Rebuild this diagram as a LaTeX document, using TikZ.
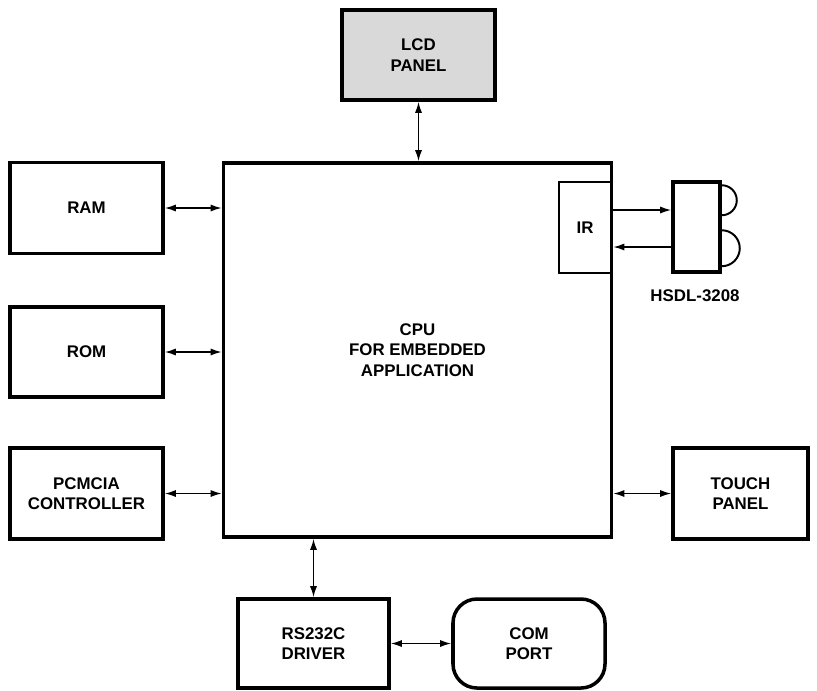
\documentclass[tikz,border=0pt]{standalone}
\usepackage{fontspec}
\setmainfont{Liberation Sans}
\usetikzlibrary{arrows.meta}
\tikzset{
  blk/.style={rectangle, draw=black, line width=2.5pt, align=center,
              font=\fontsize{12}{14.4}\selectfont\bfseries, inner sep=0pt},
  blkthin/.style={blk, line width=1.4pt},
  blkround/.style={blk, rounded corners=6mm},
  link/.style={{Latex[length=2.8mm,width=1.8mm]}-{Latex[length=2.8mm,width=1.8mm]}, line width=1.1pt},
  onelink/.style={-{Latex[length=2.8mm,width=1.8mm]}, line width=1.1pt},
  lens/.style={line width=1.4pt},
}
\begin{document}
\begin{tikzpicture}[x=0.25mm, y=-0.25mm]
\useasboundingbox (0,0) rectangle (817,690);
% main blocks
\node[blk, fill=black!15, minimum width=38.25mm, minimum height=22.5mm] (lcd) at (418.5,55) {LCD\\PANEL};
\node[blk, minimum width=97mm, minimum height=93.5mm] (cpu) at (417.5,350) {CPU\\FOR EMBEDDED\\APPLICATION};
\node[blk, minimum width=38.25mm, minimum height=22.75mm] (ram) at (86.5,208) {RAM};
\node[blk, minimum width=38.25mm, minimum height=22.5mm] (rom) at (86.5,352) {ROM};
\node[blk, minimum width=38.25mm, minimum height=22.75mm] (pcmcia) at (86.5,493.5) {PCMCIA\\CONTROLLER};
\node[blk, minimum width=33.75mm, minimum height=22.75mm] (touch) at (740.5,493.5) {TOUCH\\PANEL};
\node[blk, minimum width=37.75mm, minimum height=22.25mm] (rs232) at (313.5,643.5) {RS232C\\DRIVER};
\node[blkround, minimum width=38mm, minimum height=22.25mm] (com) at (529,643.5) {COM\\PORT};
% infrared part
\node[blkthin, minimum width=13mm, minimum height=22.75mm] (ir) at (585,227.5) {IR};
\node[blk, minimum width=11.75mm, minimum height=22.5mm] (hsdl) at (696.5,227) {};
\node[font=\fontsize{12}{14.4}\selectfont\bfseries] (hsdllabel) at (695,296) {HSDL-3208};
\draw[lens] ([yshift=-1.25mm]hsdl.north east) arc[start angle=-90, end angle=90, radius=15];
\draw[lens] ([yshift=-12.5mm]hsdl.north east) arc[start angle=-90, end angle=90, radius=18];
% connections
\draw[link] (lcd.south) -- (lcd.south |- cpu.north);
\draw[link] (ram.east) -- (ram.east -| cpu.west);
\draw[link] (rom.east) -- (rom.east -| cpu.west);
\draw[link] (pcmcia.east) -- (pcmcia.east -| cpu.west);
\draw[link] (touch.west) -- (touch.west -| cpu.east);
\draw[link] (rs232.north) -- (rs232.north |- cpu.south);
\draw[link] (rs232.east) -- (com.west);
\draw[onelink] ([yshift=4.25mm]hsdl.west -| cpu.east) -- ([yshift=4.25mm]hsdl.west);
\draw[onelink] ([yshift=-5mm]hsdl.west) -- ([yshift=-5mm]hsdl.west -| cpu.east);
\end{tikzpicture}
\end{document}
